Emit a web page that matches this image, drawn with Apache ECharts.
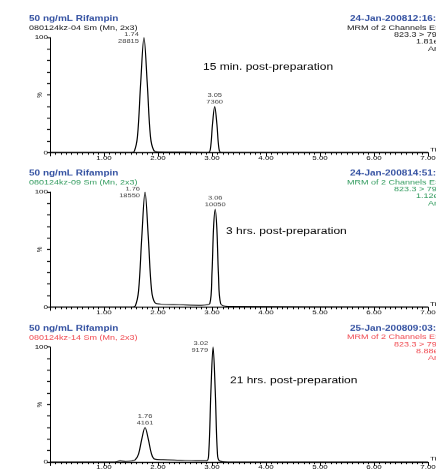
<!DOCTYPE html>
<html>
<head>
<meta charset="utf-8">
<script src="https://cdn.jsdelivr.net/npm/echarts@6/dist/echarts.min.js"></script>
<style>
  html, body { margin: 0; padding: 0; background: #fff; overflow: hidden; }
  /* the original print is squashed vertically, so draw tall and scale down */
  #wrap { width: 436px; height: 469px; overflow: hidden; }
  #chart { width: 436px; height: 626px; transform: scaleY(0.75); transform-origin: 0 0; }
</style>
</head>
<body>
<div id="wrap"><div id="chart"></div></div>
<script>
// 15 min. post-preparation
const timeP1 = [0, 1.00, 1.50, 1.56, 1.62, 1.68, 1.74, 1.80, 1.86, 1.92, 2.00, 2.50, 2.93, 2.97, 3.01, 3.05, 3.09, 3.13, 3.17, 3.40, 7.00];
const intensityP1 = [0, 0, 0, 1, 14, 61, 100, 61, 14, 2, 0.5, 0.3, 0, 3, 25, 40, 25, 3, 0, 0, 0];
const peakTimeP1 = [1.74, 3.05];
const peakHeightP1 = [100, 40];
const peakAreaP1 = [28815, 7360];

// 3 hrs. post-preparation
const timeP2 = [0, 1.00, 1.52, 1.58, 1.64, 1.70, 1.76, 1.82, 1.88, 1.94, 2.05, 2.40, 2.80, 2.96, 3.00, 3.03, 3.06, 3.09, 3.12, 3.16, 3.30, 7.00];
const intensityP2 = [0, 0, 0, 1, 14, 61, 100, 61, 15, 4, 2.5, 2, 1.5, 3, 30, 70, 85, 68, 28, 3, 0.5, 0];
const peakTimeP2 = [1.76, 3.06];
const peakHeightP2 = [100, 85];
const peakAreaP2 = [18550, 10050];

// 21 hrs. post-preparation
const timeP3 = [0, 1.20, 1.30, 1.40, 1.52, 1.58, 1.64, 1.70, 1.76, 1.82, 1.88, 1.94, 2.10, 2.40, 2.70, 2.90, 2.94, 2.98, 3.02, 3.06, 3.10, 3.14, 3.30, 7.00];
const intensityP3 = [0, 0, 1, 0.5, 1, 2, 7, 20, 30, 20, 7, 2.5, 2, 1.5, 1, 1, 8, 62, 100, 62, 8, 1, 0, 0];
const peakTimeP3 = [1.76, 3.02];
const peakHeightP3 = [30, 100];
const peakAreaP3 = [4161, 9179];

const xTicks = [1, 2, 3, 4, 5, 6, 7];
const yTickLabels = [0, 100];

const panelNotes = ['15 min. post-preparation', '3 hrs. post-preparation', '21 hrs. post-preparation'];
const sampleNames = ['080124kz-04 Sm (Mn, 2x3)', '080124kz-09 Sm (Mn, 2x3)', '080124kz-14 Sm (Mn, 2x3)'];
const runDates = ['24-Jan-200812:16:33', '24-Jan-200814:51:07', '25-Jan-200809:03:22'];
const scaleTexts = ['1.81e5', '1.12e5', '8.88e4'];

const SY = 0.75;  // vertical squash applied by css
const FONT = '"Liberation Sans", Arial, sans-serif';
const BLUE = '#3552a2';
const panelColors = ['#111111', '#2f9a5c', '#f0484f'];

// y positions below are measured on the reference (px), divided by SY when used
const panels = [
  { time: timeP1, y: intensityP1, pt: peakTimeP1, ph: peakHeightP1, pa: peakAreaP1, top: 37.5, noteX: 203, noteY: 63 },
  { time: timeP2, y: intensityP2, pt: peakTimeP2, ph: peakHeightP2, pa: peakAreaP2, top: 192, noteX: 226, noteY: 227 },
  { time: timeP3, y: intensityP3, pt: peakTimeP3, ph: peakHeightP3, pa: peakAreaP3, top: 347, noteX: 230, noteY: 376 }
];
const plotHeight = 115;

const chart = echarts.init(document.getElementById('chart'), null, { renderer: 'canvas' });

const grid = [], xAxis = [], yAxis = [], series = [], graphic = [];
const txt = (x, yRef, text, font, fill) => ({
  type: 'text', left: x, top: yRef / SY,
  style: { text, font, fill, verticalAlign: 'middle' }
});

panels.forEach((p, i) => {
  grid.push({ left: 50, right: 8, top: p.top / SY, height: plotHeight / SY, outerBoundsMode: 'none', containLabel: false });
  xAxis.push({
    gridIndex: i, type: 'value', min: 0, max: 7, interval: 1,
    name: 'Time', nameLocation: 'end', nameGap: 2,
    nameTextStyle: { fontFamily: FONT, fontSize: 8, color: '#000', verticalAlign: 'bottom', padding: [0, 0, 0, 0] },
    axisLine: { lineStyle: { color: '#000', width: 1.3 } },
    axisTick: { length: 5, lineStyle: { color: '#000' } },
    minorTick: { show: true, splitNumber: 10, length: 3, lineStyle: { color: '#000' } },
    splitLine: { show: false },
    axisLabel: {
      fontFamily: FONT, fontSize: 8, color: '#000', margin: 3,
      formatter: v => xTicks.includes(v) ? v.toFixed(2) : ''
    }
  });
  yAxis.push({
    gridIndex: i, type: 'value', min: 0, max: 100, interval: 10,
    name: '%', nameLocation: 'middle', nameGap: 6, nameRotate: 90, nameMoveOverlap: false,
    nameTextStyle: { fontFamily: FONT, fontSize: 8, color: '#000' },
    axisLine: { show: true, lineStyle: { color: '#000', width: 1 } },
    axisTick: { length: 3, lineStyle: { color: '#000', width: 1.3 } },
    splitLine: { show: false },
    axisLabel: {
      fontFamily: FONT, fontSize: 8, color: '#000', margin: 2,
      formatter: v => yTickLabels.includes(v) ? String(v) : ''
    }
  });
  series.push({
    type: 'line', xAxisIndex: i, yAxisIndex: i,
    data: p.time.map((t, k) => [t, p.y[k]]),
    showSymbol: false, smooth: 0.35,
    lineStyle: { color: '#000', width: 1.2 },
    silent: true
  });
  // peak labels: retention time over area; full-scale peaks are labelled on the left
  series.push({
    type: 'scatter', xAxisIndex: i, yAxisIndex: i,
    symbolSize: 0, silent: true,
    label: {
      show: true, fontFamily: FONT, fontSize: 7.5, lineHeight: 9, color: '#000',
      formatter: d => d.value[0].toFixed(2) + '\n' + d.value[2]
    },
    data: p.pt.map((t, k) => ({
      value: [t, p.ph[k], p.pa[k]],
      label: p.ph[k] >= 99
        ? { position: 'left', distance: 5, align: 'right' }
        : { position: 'top', distance: 2, align: 'center' }
    }))
  });

  const t = p.top;
  const c = panelColors[i];
  graphic.push(
    txt(29, t - 22, '50 ng/mL Rifampin', 'bold 10px ' + FONT, BLUE),
    txt(29, t - 12.8, sampleNames[i], '9px ' + FONT, c),
    txt(350, t - 22, runDates[i], 'bold 10px ' + FONT, BLUE),
    txt(347, t - 13, 'MRM of 2 Channels ES+', '9px ' + FONT, c),
    txt(394, t - 6, '823.3 > 791.3', '9px ' + FONT, c),
    txt(416, t + 1, scaleTexts[i], '9px ' + FONT, c),
    txt(428, t + 8, 'Area', '9px ' + FONT, c),
    txt(p.noteX, p.noteY, panelNotes[i], '12px ' + FONT, '#000')
  );
});

chart.setOption({
  animation: false,
  backgroundColor: '#fff',
  grid, xAxis, yAxis, series, graphic
});
</script>
</body>
</html>
